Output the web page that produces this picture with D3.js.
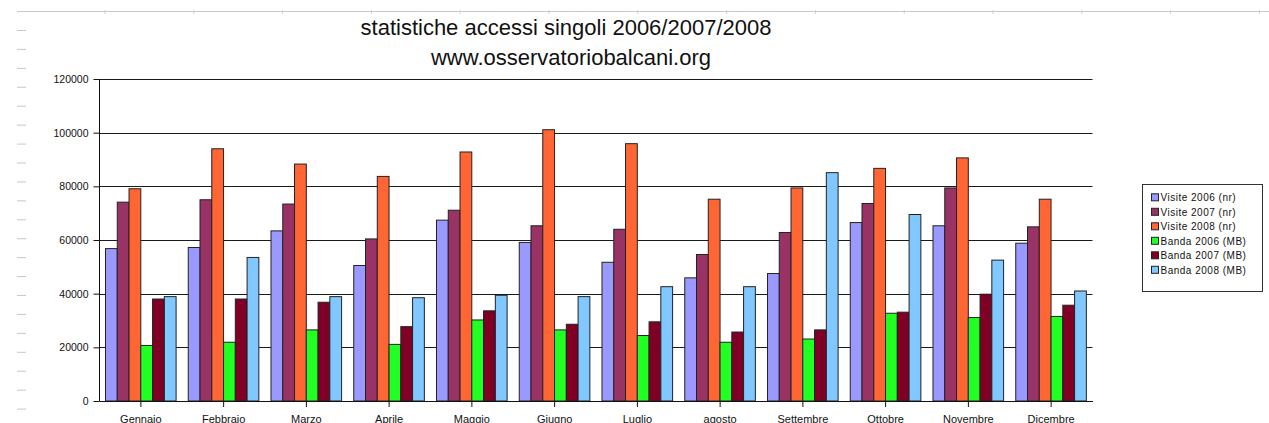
<!DOCTYPE html>
<html>
<head>
<meta charset="utf-8">
<script src="https://cdn.jsdelivr.net/npm/d3@7"></script>
<style>
  body { margin: 0; background: white; }
  svg { display: block; font-family: "Liberation Sans", Arial, sans-serif; }
</style>
</head>
<body>
<div id="vis"></div>
<script>
// data
var months = ['Gennaio', 'Febbraio', 'Marzo', 'Aprile', 'Maggio', 'Giugno',
              'Luglio', 'agosto', 'Settembre', 'Ottobre', 'Novembre', 'Dicembre'];
var seriesNames = ['Visite 2006 (nr)', 'Visite 2007 (nr)', 'Visite 2008 (nr)',
                   'Banda 2006 (MB)', 'Banda 2007 (MB)', 'Banda 2008 (MB)'];
var visite2006 = [56800, 57200, 63400, 50500, 67400, 59100, 51700, 45900, 47500, 66500, 65300, 58800];
var visite2007 = [74100, 75000, 73400, 60400, 71100, 65300, 64000, 54600, 62800, 73600, 79400, 64900];
var visite2008 = [79100, 94000, 88300, 83700, 92800, 101100, 95900, 75200, 79400, 86700, 90600, 75200];
var banda2006 = [20700, 21900, 26500, 21100, 30200, 26500, 24400, 21900, 23100, 32700, 31100, 31500];
var banda2007 = [38000, 38000, 36800, 27700, 33600, 28600, 29500, 25700, 26500, 33100, 39800, 35700];
var banda2008 = [38900, 53500, 38900, 38500, 39400, 38900, 42600, 42600, 85100, 69500, 52500, 41000];
var yTicks = [0, 20000, 40000, 60000, 80000, 100000, 120000];
var colors = ['#9999ff', '#993366', '#ff6633', '#22ff22', '#800025', '#80c8ff'];

var allSeries = [visite2006, visite2007, visite2008, banda2006, banda2007, banda2008];

// svg properties
var svgWidth = 1269;
var svgHeight = 423;

d3.select('#vis').append('svg')
  .attr('width', svgWidth)
  .attr('height', svgHeight);

var svg = d3.select('svg');

// spreadsheet leftovers: ruler line on top and small dashes on the left
svg.append('line')
  .attr('x1', 17).attr('x2', svgWidth)
  .attr('y1', 11.5).attr('y2', 11.5)
  .attr('stroke', '#c8c8c8');

for (var k = 0; k < 14; k++) {
  svg.append('line')
    .attr('x1', 105 + k * 88.8).attr('x2', 105 + k * 88.8)
    .attr('y1', 10).attr('y2', 14)
    .attr('stroke', '#d0d0d0');
}

for (var j = 0; j < 21; j++) {
  svg.append('line')
    .attr('x1', 17).attr('x2', 26)
    .attr('y1', 30.5 + j * 18.93).attr('y2', 30.5 + j * 18.93)
    .attr('stroke', '#c8c8c8');
}

// graph properties
var graphMargin = {top: 79, left: 99.5},
    graphWidth = 993,
    graphHeight = 322,
    graph = svg.append('g')
      .attr('transform', 'translate(' + graphMargin.left + ',' + graphMargin.top + ')');

// scales
var xScale = d3.scaleBand().domain(months).range([0, graphWidth]);
var xInner = d3.scaleBand().domain(d3.range(seriesNames.length)).range([6, 76.6]);
var yScale = d3.scaleLinear().domain([0, 120000]).range([graphHeight, 0]);

// gridlines
graph.selectAll('.grid')
  .data(yTicks)
  .enter().append('line')
  .attr('class', 'grid')
  .attr('x1', 0)
  .attr('x2', graphWidth)
  .attr('y1', function (d) { return Math.round(yScale(d)) + 0.5; })
  .attr('y2', function (d) { return Math.round(yScale(d)) + 0.5; })
  .attr('stroke', '#1a1a1a');

// bars, one group per month
var groups = graph.selectAll('.month')
  .data(months)
  .enter().append('g')
  .attr('class', 'month')
  .attr('transform', function (d) { return 'translate(' + xScale(d) + ',0)'; });

groups.selectAll('rect')
  .data(function (d, i) {
    return allSeries.map(function (s, si) { return {s: si, v: s[i]}; });
  })
  .enter().append('rect')
  .attr('x', function (d) { return xInner(d.s); })
  .attr('y', function (d) { return yScale(d.v); })
  .attr('width', xInner.bandwidth())
  .attr('height', function (d) { return graphHeight - yScale(d.v); })
  .attr('fill', function (d) { return colors[d.s]; })
  .attr('stroke', '#222')
  .attr('stroke-width', 1);

// axes
var yAxis = graph.append('g')
  .attr('class', 'axis yAxis')
  .call(d3.axisLeft(yScale).tickValues(yTicks).tickSize(6).tickPadding(5).tickFormat(d3.format('d')));

var xAxis = graph.append('g')
  .attr('class', 'axis xAxis')
  .attr('transform', 'translate(0,' + graphHeight + ')')
  .call(d3.axisBottom(xScale).tickSize(6).tickPadding(8).tickSizeOuter(0));

svg.selectAll('.axis path, .axis line').attr('stroke', '#111');
svg.selectAll('.axis text')
  .attr('fill', '#111')
  .style('font-family', '"Liberation Sans", Arial, sans-serif')
  .style('font-size', '10.5px');
xAxis.selectAll('text').style('font-size', '11px');
yAxis.select('.domain').attr('d', 'M0,0V' + graphHeight);

// title
svg.append('text')
  .attr('x', 566)
  .attr('y', 35)
  .attr('text-anchor', 'middle')
  .style('font-size', '22px')
  .attr('fill', '#111')
  .text('statistiche accessi singoli 2006/2007/2008');

svg.append('text')
  .attr('x', 571)
  .attr('y', 65)
  .attr('text-anchor', 'middle')
  .style('font-size', '22px')
  .attr('fill', '#111')
  .text('www.osservatoriobalcani.org');

// legend
var legend = svg.append('g')
  .attr('transform', 'translate(1142.5,184.5)');

legend.append('rect')
  .attr('width', 120)
  .attr('height', 107)
  .attr('fill', 'white')
  .attr('stroke', '#333');

var items = legend.selectAll('.item')
  .data(seriesNames)
  .enter().append('g')
  .attr('class', 'item')
  .attr('transform', function (d, i) { return 'translate(0,' + (12.8 + i * 14.5) + ')'; });

items.append('rect')
  .attr('x', 9)
  .attr('y', -3.5)
  .attr('width', 7)
  .attr('height', 7)
  .attr('fill', function (d, i) { return colors[i]; })
  .attr('stroke', '#222');

items.append('text')
  .attr('x', 18)
  .attr('y', 3.8)
  .style('font-size', '10px')
  .style('letter-spacing', '0.5px')
  .attr('fill', '#111')
  .text(function (d) { return d; });
</script>
</body>
</html>
